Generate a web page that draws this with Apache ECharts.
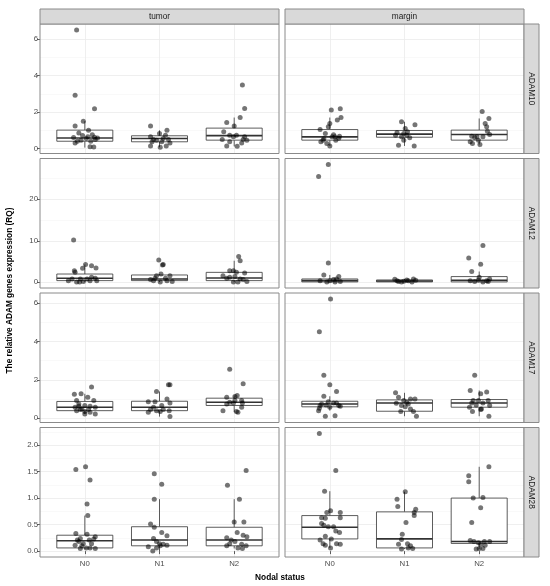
<!DOCTYPE html>
<html>
<head>
<meta charset="utf-8">
<script src="https://cdn.jsdelivr.net/npm/echarts@6/dist/echarts.min.js"></script>
<style>html,body{margin:0;padding:0;background:#fff}#chart{width:550px;height:586px}</style>
</head>
<body>
<div id="chart"></div>
<script>
const groups = ['N0', 'N1', 'N2'];
const genes = ['ADAM10', 'ADAM12', 'ADAM17', 'ADAM28'];
const tissues = ['tumor', 'margin'];

// tick labels per row
const adam10Ticks = [0, 2, 4, 6];
const adam12Ticks = [0, 10, 20];
const adam17Ticks = [0, 2, 4, 6];
const adam28Ticks = [0, 0.5, 1, 1.5, 2];

// box stats per group: [lower whisker, Q1, median, Q3, upper whisker]
const adam10TumorBox = [[0.05, 0.40, 0.58, 1.01, 1.50], [0.07, 0.37, 0.55, 0.70, 1.00], [0.12, 0.46, 0.71, 1.12, 1.70]];
const adam10MarginBox = [[0.14, 0.46, 0.64, 1.04, 1.70], [0.14, 0.62, 0.79, 0.99, 1.47], [0.22, 0.46, 0.77, 1.01, 1.65]];
const adam12TumorBox = [[0.05, 0.41, 0.97, 2.00, 4.30], [0.05, 0.41, 0.81, 1.77, 2.00], [0.05, 0.41, 1.05, 2.40, 5.20]];
const adam12MarginBox = [[0.05, 0.10, 0.40, 0.81, 1.78], [0.05, 0.10, 0.33, 0.57, 0.81], [0.05, 0.10, 0.49, 1.38, 2.60]];
const adam17TumorBox = [[0.23, 0.40, 0.58, 0.88, 1.28], [0.09, 0.40, 0.58, 0.89, 1.40], [0.32, 0.67, 0.84, 1.05, 1.19]];
const adam17MarginBox = [[0.40, 0.60, 0.75, 0.89, 1.15], [0.11, 0.37, 0.80, 0.96, 1.33], [0.11, 0.58, 0.80, 0.98, 1.45]];
const adam28TumorBox = [[0.05, 0.06, 0.195, 0.30, 0.67], [0.00, 0.10, 0.21, 0.46, 0.98], [0.05, 0.10, 0.21, 0.45, 0.98]];
const adam28MarginBox = [[0.06, 0.23, 0.45, 0.67, 1.13], [0.04, 0.06, 0.23, 0.74, 1.12], [0.04, 0.145, 0.18, 1.00, 1.59]];

// jittered points: [group position + jitter, RQ]
const adam10TumorPts = [
  [0.89, 6.51], [0.87, 2.93], [1.13, 2.18], [0.98, 1.50], [0.87, 1.23], [1.05, 1.00], [0.92, 0.85], [1.10, 0.75], [0.85, 0.60], [1.02, 0.55], [1.14, 0.50], [0.95, 0.45], [1.08, 0.40], [0.87, 0.30], [1.17, 0.58], [0.90, 0.40], [1.07, 0.10], [1.12, 0.08], [1.04, 0.65], [0.97, 0.72], [1.13, 0.62],
  [1.88, 1.23], [2.10, 1.00], [2.00, 0.82], [2.08, 0.73], [1.88, 0.64], [1.92, 0.50], [2.05, 0.55], [2.14, 0.30], [1.88, 0.14], [2.01, 0.07], [2.09, 0.14], [1.96, 0.46], [2.12, 0.50], [1.90, 0.37], [2.03, 0.37],
  [3.11, 3.48], [3.14, 2.20], [3.08, 1.70], [2.90, 1.43], [3.00, 1.23], [2.86, 0.92], [2.94, 0.73], [3.03, 0.73], [2.84, 0.50], [3.12, 0.50], [3.17, 0.46], [3.10, 0.30], [2.90, 0.14], [3.04, 0.12], [2.99, 0.65], [2.94, 0.37], [3.14, 0.64]
];
const adam10MarginPts = [
  [1.02, 2.11], [1.14, 2.18], [1.15, 1.70], [1.10, 1.56], [1.00, 1.37], [0.98, 1.19], [0.87, 1.04], [0.94, 0.82], [1.03, 0.64], [1.07, 0.64], [0.92, 0.53], [1.12, 0.57], [0.88, 0.37], [0.96, 0.27], [1.00, 0.14], [1.08, 0.46], [1.05, 0.75], [1.13, 0.68], [0.91, 0.46],
  [1.96, 1.47], [2.14, 1.30], [2.01, 1.10], [1.90, 0.88], [1.99, 0.82], [2.03, 0.73], [1.88, 0.73], [2.07, 0.59], [1.92, 0.18], [2.13, 0.14], [1.99, 0.46], [2.04, 0.92], [1.96, 0.64],
  [3.04, 2.03], [3.13, 1.65], [3.08, 1.37], [3.10, 1.19], [3.11, 0.95], [3.14, 0.77], [2.90, 0.68], [2.94, 0.60], [2.88, 0.37], [2.99, 0.46], [3.01, 0.22], [2.91, 0.27], [3.05, 0.64], [2.97, 0.64]
];
const adam12TumorPts = [
  [0.85, 10.2], [1.01, 4.3], [0.97, 3.4], [1.09, 4.0], [1.15, 3.45], [0.86, 2.8], [0.87, 2.4], [0.94, 0.8], [1.03, 0.8], [1.07, 0.4], [0.89, 0.05], [1.14, 0.97], [0.78, 0.4], [0.98, 0.2], [1.09, 1.2], [0.83, 0.8], [1.16, 0.4], [0.93, 0.05],
  [1.99, 5.4], [2.05, 4.3], [2.04, 4.2], [2.02, 2.0], [1.96, 1.6], [2.14, 1.6], [1.88, 0.65], [2.10, 0.4], [1.92, 0.4], [2.17, 0.2], [2.01, 0.05], [1.94, 0.97], [2.08, 0.97],
  [3.06, 6.2], [3.08, 5.2], [2.94, 2.8], [2.99, 2.8], [3.03, 2.4], [3.14, 2.25], [2.85, 1.6], [2.94, 1.2], [3.08, 0.8], [3.17, 0.2], [2.99, 0.05], [3.05, 0.05], [2.90, 0.97], [3.12, 0.65], [3.01, 1.4]
];
const adam12MarginPts = [
  [0.98, 28.4], [0.85, 25.5], [0.98, 4.65], [0.92, 1.78], [1.12, 1.38], [0.87, 0.4], [1.05, 0.65], [1.14, 0.2], [0.96, 0.05], [1.07, 0.05], [1.00, 0.4], [1.09, 0.8],
  [1.87, 0.73], [1.90, 0.4], [1.99, 0.25], [2.12, 0.81], [2.15, 0.49], [2.10, 0.1], [1.96, 0.05], [2.03, 0.57], [1.92, 0.2], [2.05, 0.4],
  [3.05, 8.85], [2.86, 5.87], [3.02, 4.35], [2.90, 2.6], [2.88, 0.4], [2.94, 0.2], [3.10, 0.4], [3.14, 0.8], [3.05, 0.05], [2.99, 0.57], [3.12, 0.2], [3.00, 1.2]
];
const adam17TumorPts = [
  [1.09, 1.63], [0.86, 1.26], [0.95, 1.28], [1.04, 1.10], [0.89, 0.93], [1.12, 0.93], [0.92, 0.75], [1.00, 0.67], [1.07, 0.63], [0.87, 0.58], [0.96, 0.49], [1.05, 0.46], [1.14, 0.58], [0.89, 0.40], [1.00, 0.35], [1.07, 0.32], [1.00, 0.23], [1.14, 0.23], [0.94, 0.46], [0.92, 0.63],
  [1.96, 1.40], [2.14, 1.75], [2.12, 1.75], [2.10, 1.01], [1.85, 0.87], [1.94, 0.87], [2.14, 0.80], [2.03, 0.67], [1.92, 0.58], [1.88, 0.46], [1.96, 0.40], [1.85, 0.32], [2.05, 0.46], [2.13, 0.40], [2.01, 0.35], [2.14, 0.09],
  [2.94, 2.55], [3.12, 1.80], [3.01, 1.14], [2.90, 1.10], [3.04, 1.19], [3.10, 0.93], [2.94, 0.84], [2.99, 0.80], [2.85, 0.40], [3.03, 0.35], [3.05, 0.32], [3.10, 0.58], [2.90, 0.75], [3.01, 0.93], [3.11, 0.80]
];
const adam17MarginPts = [
  [1.01, 6.22], [0.86, 4.51], [0.92, 2.24], [1.00, 1.75], [1.09, 1.40], [0.92, 1.15], [0.98, 0.87], [0.89, 0.75], [1.05, 0.80], [0.95, 0.70], [1.12, 0.67], [0.86, 0.53], [1.14, 0.63], [0.85, 0.40], [0.94, 0.11], [1.07, 0.14], [1.00, 0.58], [0.87, 0.67], [1.09, 0.80],
  [1.88, 1.33], [1.92, 1.10], [2.08, 1.01], [2.14, 1.01], [1.99, 0.93], [1.89, 0.79], [2.03, 0.84], [1.96, 0.67], [2.05, 0.75], [2.08, 0.49], [2.12, 0.35], [1.95, 0.35], [2.16, 0.11], [2.01, 0.61],
  [2.94, 2.24], [2.88, 1.45], [3.10, 1.37], [3.02, 1.28], [2.92, 0.93], [2.99, 0.93], [3.12, 0.93], [3.05, 0.80], [2.90, 0.80], [3.14, 0.67], [2.87, 0.58], [3.02, 0.46], [2.91, 0.35], [3.13, 0.11], [3.03, 0.49], [2.96, 0.70]
];
const adam28TumorPts = [
  [0.88, 1.54], [1.01, 1.59], [1.07, 1.34], [1.03, 0.89], [1.04, 0.67], [0.88, 0.33], [1.03, 0.32], [1.14, 0.27], [0.94, 0.24], [0.90, 0.21], [1.06, 0.21], [0.98, 0.14], [1.09, 0.14], [0.94, 0.05], [1.14, 0.05], [1.02, 0.06], [0.87, 0.11], [1.07, 0.06], [0.96, 0.10], [1.12, 0.23], [0.92, 0.18],
  [1.93, 1.46], [2.03, 1.26], [1.93, 0.98], [1.88, 0.51], [1.93, 0.45], [2.03, 0.35], [2.10, 0.29], [1.92, 0.24], [1.96, 0.18], [2.00, 0.14], [2.05, 0.13], [2.10, 0.11], [1.85, 0.08], [1.96, 0.06], [1.91, 0.00], [2.01, 0.10],
  [2.91, 1.24], [3.16, 1.52], [3.07, 0.98], [3.00, 0.55], [3.13, 0.55], [3.04, 0.35], [3.12, 0.30], [3.17, 0.27], [2.90, 0.25], [2.96, 0.21], [2.94, 0.14], [3.10, 0.13], [3.16, 0.10], [2.90, 0.10], [3.05, 0.06], [3.11, 0.05], [3.01, 0.18]
];
const adam28MarginPts = [
  [0.86, 2.22], [1.08, 1.52], [0.93, 1.13], [1.01, 0.76], [0.96, 0.73], [1.14, 0.73], [0.89, 0.63], [0.94, 0.62], [1.14, 0.63], [0.92, 0.49], [0.89, 0.52], [1.05, 0.46], [1.08, 0.38], [1.13, 0.35], [0.94, 0.28], [0.87, 0.21], [1.02, 0.23], [0.91, 0.14], [0.94, 0.11], [1.01, 0.06], [1.09, 0.14], [1.14, 0.13], [0.98, 0.46],
  [2.01, 1.12], [1.90, 0.98], [1.91, 0.84], [2.15, 0.79], [2.13, 0.73], [2.13, 0.67], [2.02, 0.54], [1.97, 0.32], [1.96, 0.22], [1.92, 0.13], [2.04, 0.14], [2.08, 0.10], [1.96, 0.04], [2.11, 0.05], [2.05, 0.06],
  [3.13, 1.59], [2.86, 1.42], [2.86, 1.31], [2.92, 1.00], [3.05, 1.01], [3.02, 0.82], [2.90, 0.54], [2.88, 0.20], [2.93, 0.18], [2.99, 0.16], [3.07, 0.18], [3.14, 0.18], [3.02, 0.13], [3.00, 0.05], [3.05, 0.05], [2.96, 0.04], [3.08, 0.11]
];

const rowTicks = [adam10Ticks, adam12Ticks, adam17Ticks, adam28Ticks];
const panels = [
  { row: 0, col: 0, box: adam10TumorBox, pts: adam10TumorPts },
  { row: 0, col: 1, box: adam10MarginBox, pts: adam10MarginPts },
  { row: 1, col: 0, box: adam12TumorBox, pts: adam12TumorPts },
  { row: 1, col: 1, box: adam12MarginBox, pts: adam12MarginPts },
  { row: 2, col: 0, box: adam17TumorBox, pts: adam17TumorPts },
  { row: 2, col: 1, box: adam17MarginBox, pts: adam17MarginPts },
  { row: 3, col: 0, box: adam28TumorBox, pts: adam28TumorPts },
  { row: 3, col: 1, box: adam28MarginBox, pts: adam28MarginPts }
];

const FONT = '"Liberation Sans", Arial, sans-serif';
const BORDER = '#8a8a8a';
const rowTop = [24, 158.5, 293, 427.5];
const rowH = 129.5;
const colLeft = [40, 285];
const colW = 239;
const rowSplit = [4, 3, 4, 5]; // gives nice major steps 2, 10, 2, 0.5
const BOX_HALF = 0.375;

// free y scale per row: data range plus 5% each side, like ggplot
const rowRange = genes.map((g, r) => {
  const vals = [];
  panels.filter(p => p.row === r).forEach(p => {
    p.box.forEach(b => vals.push(...b));
    p.pts.forEach(q => vals.push(q[1]));
  });
  const lo = Math.min(...vals), hi = Math.max(...vals);
  const pad = (hi - lo) * 0.05;
  return [lo - pad, hi + pad];
});

function renderBox(params, api) {
  const x = api.value(0);
  const lo = api.coord([x, api.value(1)]);
  const q1 = api.coord([x, api.value(2)]);
  const md = api.coord([x, api.value(3)]);
  const q3 = api.coord([x, api.value(4)]);
  const hi = api.coord([x, api.value(5)]);
  const left = api.coord([x - BOX_HALF, api.value(3)])[0];
  const right = api.coord([x + BOX_HALF, api.value(3)])[0];
  const line = { stroke: '#333', lineWidth: 0.8 };
  return {
    type: 'group',
    children: [
      { type: 'line', shape: { x1: lo[0], y1: lo[1], x2: q1[0], y2: q1[1] }, style: line },
      { type: 'line', shape: { x1: q3[0], y1: q3[1], x2: hi[0], y2: hi[1] }, style: line },
      { type: 'rect', shape: { x: left, y: q3[1], width: right - left, height: q1[1] - q3[1] },
        style: { stroke: '#333', lineWidth: 0.8, fill: '#fff' } },
      { type: 'line', shape: { x1: left, y1: md[1], x2: right, y2: md[1] }, style: { stroke: '#333', lineWidth: 1.6 } }
    ]
  };
}

const grid = [], xAxis = [], yAxis = [], series = [], graphic = [];

panels.forEach((p, i) => {
  const r = p.row, c = p.col;
  grid.push({ left: colLeft[c], top: rowTop[r], width: colW, height: rowH, containLabel: false });
  xAxis.push({
    type: 'value', gridIndex: i, min: 0.4, max: 3.6, splitNumber: 3,
    axisLine: { show: false },
    axisTick: { show: r === 3, customValues: [1, 2, 3], length: 3, lineStyle: { color: '#333', width: 0.8 } },
    axisLabel: {
      show: r === 3, customValues: [1, 2, 3], formatter: v => groups[Math.round(v) - 1],
      color: '#4d4d4d', fontSize: 7.8, margin: 3, fontFamily: FONT
    },
    splitLine: { show: true, lineStyle: { color: '#ebebeb', width: 0.8 } }
  });
  yAxis.push({
    type: 'value', gridIndex: i, min: rowRange[r][0], max: rowRange[r][1], splitNumber: rowSplit[r],
    axisLine: { show: false },
    axisTick: { show: c === 0, customValues: rowTicks[r], length: 3, lineStyle: { color: '#333', width: 0.8 } },
    axisLabel: {
      show: c === 0, customValues: rowTicks[r],
      formatter: r === 3 ? v => v.toFixed(1) : v => String(v),
      color: '#4d4d4d', fontSize: 7.8, margin: 2, fontFamily: FONT
    },
    splitLine: { show: true, lineStyle: { color: '#ebebeb', width: 0.8 } },
    minorTick: { show: false, splitNumber: 2 },
    minorSplitLine: { show: true, lineStyle: { color: '#f3f3f3', width: 0.5 } }
  });
  series.push({
    type: 'custom', xAxisIndex: i, yAxisIndex: i, z: 2,
    renderItem: renderBox,
    encode: { x: 0, y: [1, 2, 3, 4, 5] },
    data: p.box.map((b, k) => [k + 1, ...b])
  });
  series.push({
    type: 'scatter', xAxisIndex: i, yAxisIndex: i, z: 3,
    symbol: 'circle', symbolSize: 5,
    itemStyle: { color: 'rgba(0,0,0,0.68)' },
    data: p.pts
  });
  // panel border on top
  graphic.push({
    type: 'rect', z: 100, silent: true,
    shape: { x: colLeft[c], y: rowTop[r], width: colW, height: rowH },
    style: { fill: 'none', stroke: BORDER, lineWidth: 1 }
  });
});

// column strips
tissues.forEach((t, c) => {
  graphic.push({
    type: 'rect', z: 100, shape: { x: colLeft[c], y: 9, width: colW, height: 15 },
    style: { fill: '#d9d9d9', stroke: BORDER, lineWidth: 1 }
  });
  graphic.push({
    type: 'text', z: 101, x: colLeft[c] + colW / 2, y: 16.5,
    style: { text: t, fontSize: 8.3, fontFamily: FONT, fill: '#1a1a1a', align: 'center', verticalAlign: 'middle' }
  });
});

// row strips
genes.forEach((g, r) => {
  graphic.push({
    type: 'rect', z: 100, shape: { x: 524, y: rowTop[r], width: 15, height: rowH },
    style: { fill: '#d9d9d9', stroke: BORDER, lineWidth: 1 }
  });
  graphic.push({
    type: 'text', z: 101, x: 531.5, y: rowTop[r] + rowH / 2, rotation: -Math.PI / 2,
    style: { text: g, fontSize: 8.3, fontFamily: FONT, fill: '#1a1a1a', align: 'center', verticalAlign: 'middle' }
  });
});

graphic.push({
  type: 'text', z: 101, x: 10, y: 290.5, rotation: Math.PI / 2,
  style: { text: 'The relative ADAM genes expression (RQ)', fontSize: 8.3, fontWeight: 'bold', fontFamily: FONT, fill: '#000', align: 'center', verticalAlign: 'middle' }
});
graphic.push({
  type: 'text', z: 101, x: 280, y: 578,
  style: { text: 'Nodal status', fontSize: 8.3, fontWeight: 'bold', fontFamily: FONT, fill: '#000', align: 'center', verticalAlign: 'middle' }
});

const chart = echarts.init(document.getElementById('chart'), null, { renderer: 'canvas' });
chart.setOption({
  animation: false,
  backgroundColor: '#fff',
  grid: grid,
  xAxis: xAxis,
  yAxis: yAxis,
  series: series,
  graphic: graphic
});
</script>
</body>
</html>
